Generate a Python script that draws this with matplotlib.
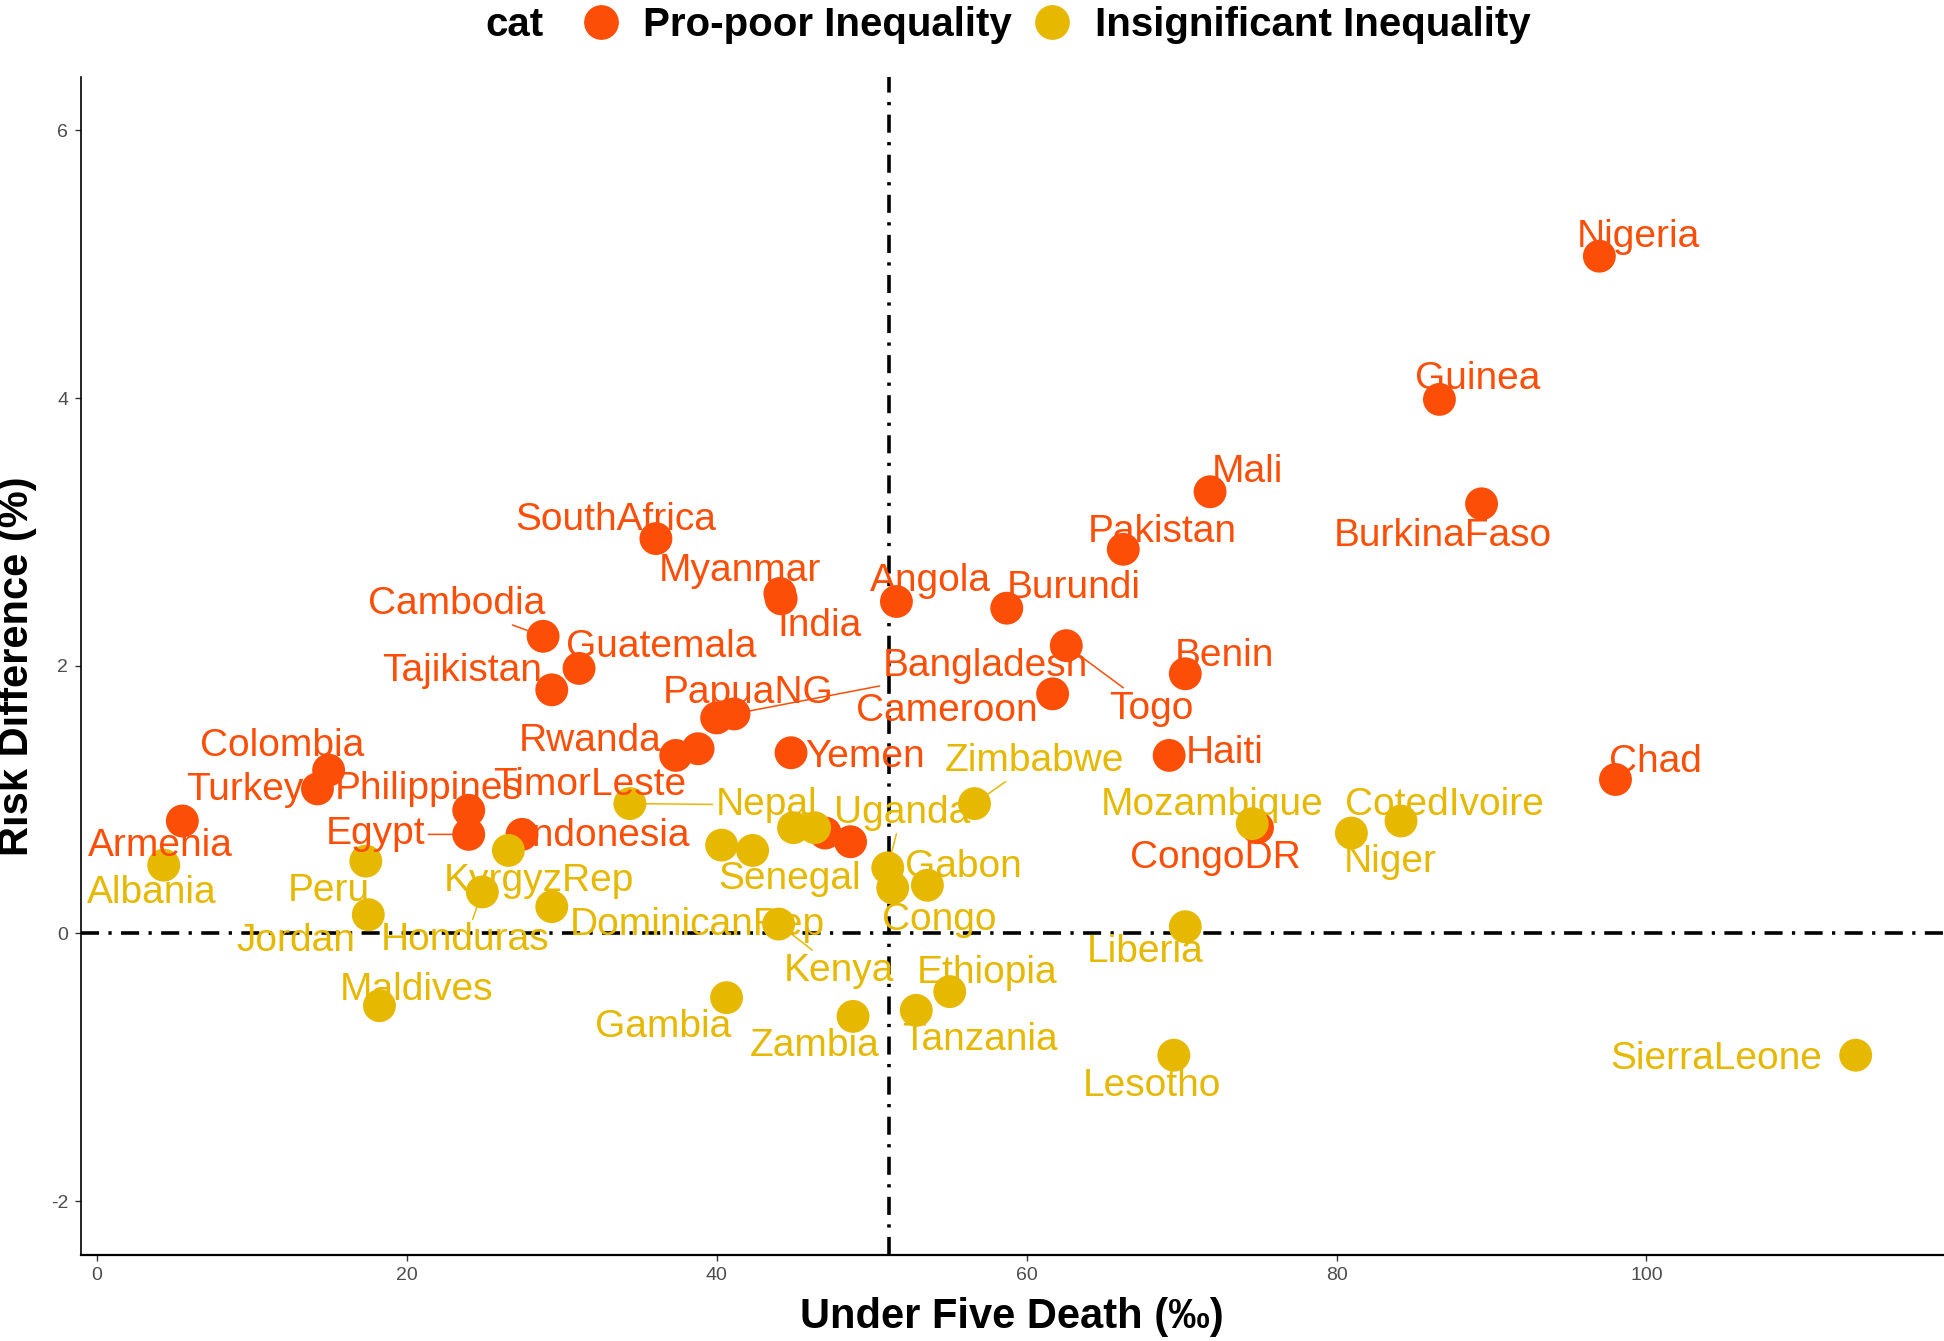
import matplotlib
matplotlib.use("Agg")
import matplotlib.pyplot as plt
from matplotlib.lines import Line2D

plt.rcParams['font.family'] = ['Liberation Sans', 'DejaVu Sans']
plt.rcParams['axes.unicode_minus'] = False

# --- DATA ---
# Pro-poor inequality countries ("" = point left unlabeled)
pro_poor = ["Nigeria", "Guinea", "Mali", "BurkinaFaso", "Pakistan", "SouthAfrica",
            "Myanmar", "India", "Angola", "Burundi", "Cambodia", "Guatemala",
            "Tajikistan", "Bangladesh", "PapuaNG", "Togo", "Cameroon", "Benin",
            "Rwanda", "TimorLeste", "Yemen", "Haiti", "Chad", "Colombia", "Turkey",
            "Philippines", "Egypt", "Armenia", "Indonesia", "CongoDR", "", ""]
pro_poor_u5 = [96.96, 86.64, 71.84, 89.36, 66.24, 36.08,
               44.08, 44.16, 51.6, 58.72, 28.8, 31.12,
               29.36, 41.12, 40.0, 62.56, 61.68, 70.24,
               37.36, 38.8, 44.8, 69.2, 98.0, 14.96, 14.24,
               24.0, 24.0, 5.52, 27.44, 74.9, 47.0, 48.64]
pro_poor_rd = [5.06, 3.99, 3.30, 3.21, 2.87, 2.95,
               2.54, 2.50, 2.48, 2.43, 2.22, 1.98,
               1.82, 1.64, 1.61, 2.15, 1.79, 1.94,
               1.33, 1.38, 1.35, 1.33, 1.15, 1.22, 1.08,
               0.92, 0.74, 0.84, 0.74, 0.79, 0.75, 0.685]

# Insignificant inequality countries
insig = ["SierraLeone", "Lesotho", "Liberia", "Niger", "CotedIvoire", "Mozambique",
         "Zimbabwe", "Uganda", "Gabon", "Congo", "Senegal", "Nepal", "Kenya",
         "DominicanRep", "KyrgyzRep", "Honduras", "Peru", "Jordan", "Albania",
         "Maldives", "Gambia", "Zambia", "Tanzania", "Ethiopia", "", "", ""]
insig_u5 = [113.5, 69.5, 70.24, 80.96, 84.16, 74.56,
            56.64, 51.04, 53.6, 51.36, 42.32, 34.4, 44.0,
            29.36, 26.56, 24.88, 17.36, 17.52, 4.32,
            18.24, 40.64, 48.8, 52.88, 55.04, 40.32, 44.96, 46.32]
insig_rd = [-0.91, -0.91, 0.05, 0.75, 0.84, 0.82,
            0.97, 0.49, 0.36, 0.34, 0.62, 0.97, 0.07,
            0.20, 0.62, 0.31, 0.54, 0.14, 0.51,
            -0.54, -0.48, -0.62, -0.575, -0.435, 0.66, 0.79, 0.79]

u5_cut = 51.1
rd_cut = 0

# --- LABEL PLACEMENT (repelled label offsets, data units) ---
label_offsets = {
    "Nigeria": (2.5, 0.14), "Guinea": (2.5, 0.15), "Mali": (2.4, 0.15),
    "BurkinaFaso": (-2.5, -0.24), "Pakistan": (2.5, 0.13), "SouthAfrica": (-2.6, 0.14),
    "Myanmar": (-2.6, 0.17), "India": (2.5, -0.20), "Angola": (2.2, 0.15),
    "Burundi": (4.3, 0.15), "Cambodia": (-5.6, 0.24), "Guatemala": (5.3, 0.16),
    "Tajikistan": (-5.8, 0.14), "Bangladesh": (16.2, 0.36), "PapuaNG": (2.0, 0.19),
    "Togo": (5.5, -0.47), "Cameroon": (-6.8, -0.13), "Benin": (2.5, 0.13),
    "Rwanda": (-5.5, 0.11), "TimorLeste": (-7.0, -0.27), "Yemen": (4.8, -0.03),
    "Haiti": (3.6, 0.02), "Chad": (2.6, 0.13), "Colombia": (-3.0, 0.18),
    "Turkey": (-4.7, -0.01), "Philippines": (-2.6, 0.16), "Egypt": (-6.0, 0.0),
    "Armenia": (-1.4, -0.19), "Indonesia": (5.4, -0.01), "CongoDR": (-2.7, -0.23),
    "SierraLeone": (-9.0, -0.03), "Lesotho": (-1.4, -0.23), "Liberia": (-2.6, -0.19),
    "Niger": (2.5, -0.22), "CotedIvoire": (2.8, 0.12), "Mozambique": (-2.6, 0.14),
    "Zimbabwe": (3.9, 0.32), "Uganda": (0.9, 0.41), "Gabon": (2.3, 0.14),
    "Congo": (3.0, -0.24), "Senegal": (2.4, -0.21), "Nepal": (8.8, -0.01),
    "Kenya": (3.9, -0.35), "DominicanRep": (9.4, -0.14), "KyrgyzRep": (2.0, -0.23),
    "Honduras": (-1.1, -0.36), "Peru": (-2.4, -0.22), "Jordan": (-4.7, -0.20),
    "Albania": (-0.8, -0.21), "Maldives": (2.4, 0.12), "Gambia": (-4.1, -0.22),
    "Zambia": (-2.5, -0.22), "Tanzania": (4.1, -0.22), "Ethiopia": (2.4, 0.14),
}
with_segment = {"Cambodia", "Bangladesh", "Togo", "Egypt", "Rwanda",
                "Zimbabwe", "Uganda", "Nepal", "Kenya", "Honduras"}

red = "#FC4E07"
yellow = "#E7B800"

# --- PLOT ---
fig = plt.figure(figsize=(19.44, 13.41), dpi=100)
ax = fig.add_axes([0.0415, 0.0644, 0.9585, 0.8783])

dash = (5, 2.6, 0.9, 2.6)
ax.axvline(u5_cut, color="black", lw=2.6, dashes=dash, zorder=1)
ax.axhline(rd_cut, color="black", lw=2.6, dashes=dash, zorder=1)

ax.scatter(pro_poor_u5, pro_poor_rd, s=560, color=red, edgecolors="none", zorder=2)
ax.scatter(insig_u5, insig_rd, s=560, color=yellow, edgecolors="none", zorder=2)


def add_labels(names, xs, ys, color):
    for name, x, y in zip(names, xs, ys):
        if not name:
            continue
        dx, dy = label_offsets[name]
        arrow = None
        if name in with_segment:
            arrow = dict(arrowstyle="-", color=color, lw=1.1, shrinkA=0, shrinkB=8)
        ax.annotate(name, xy=(x, y), xytext=(x + dx, y + dy), color=color,
                    fontsize=28, ha="center", va="center", zorder=3,
                    arrowprops=arrow)


add_labels(pro_poor, pro_poor_u5, pro_poor_rd, red)
add_labels(insig, insig_u5, insig_rd, yellow)

# --- GRAPH FORMATTING ---
ax.set_xlim(-1.04, 119.2)
ax.set_ylim(-2.40, 6.40)
ax.set_xticks([0, 20, 40, 60, 80, 100])
ax.set_yticks([-2, 0, 2, 4, 6])
ax.spines["top"].set_visible(False)
ax.spines["right"].set_visible(False)
ax.spines["left"].set_linewidth(1.2)
ax.spines["bottom"].set_linewidth(1.6)
ax.tick_params(axis="both", labelsize=14, labelcolor="#4D4D4D", color="#333333",
               length=4, width=1, pad=5)
ax.set_xlabel("Under Five Death (‰)", fontsize=30, fontweight="bold", labelpad=9)
ax.set_ylabel("Risk Difference (%)", fontsize=30, fontweight="bold", labelpad=10)

fig.text(0.2646, 0.981, "cat", fontsize=29, fontweight="bold", ha="center", va="center")
handles = [Line2D([], [], marker="o", ls="", markersize=24, color=red),
           Line2D([], [], marker="o", ls="", markersize=24, color=yellow)]
fig.legend(handles, ["Pro-poor Inequality", "Insignificant Inequality"],
           loc="center", bbox_to_anchor=(0.543, 0.981), ncol=2, frameon=False,
           prop={"size": 29, "weight": "bold"}, handletextpad=0.55,
           columnspacing=0.5, handlelength=1.0)

fig.savefig("out.png", dpi=100)
